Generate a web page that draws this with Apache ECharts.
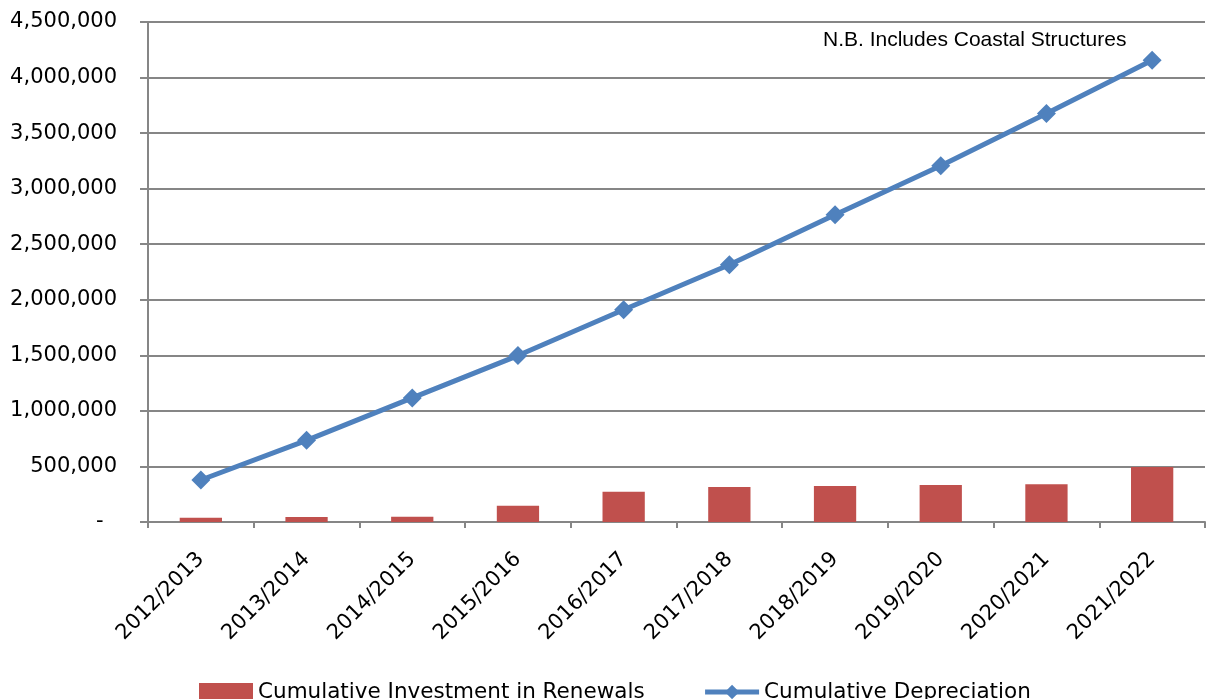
<!DOCTYPE html>
<html>
<head>
<meta charset="utf-8">
<script src="https://cdn.jsdelivr.net/npm/echarts@6/dist/echarts.min.js"></script>
<style>
  html, body { margin: 0; padding: 0; background: #fff; }
  #chart { width: 1208px; height: 699px; }
</style>
</head>
<body>
<div id="chart"></div>
<script>
// years along the category axis
const years = ['2012/2013', '2013/2014', '2014/2015', '2015/2016', '2016/2017',
               '2017/2018', '2018/2019', '2019/2020', '2020/2021', '2021/2022'];
// values
const renewals = [39000, 44000, 48000, 147000, 273000, 315000, 324000, 333000, 339000, 495000];
const depreciation = [378000, 735000, 1117000, 1498000, 1910000, 2315000, 2766000, 3207000, 3676000, 4155000];
const yTicks = { min: 0, max: 4500000, step: 500000 };
const note = 'N.B. Includes Coastal Structures';

const font = '"DejaVu Sans", sans-serif';
const noteFont = '"Liberation Sans", Arial, sans-serif';
const gridGrey = '#868686';

const chart = echarts.init(document.getElementById('chart'));
chart.setOption({
    animation: false,
    textStyle: { fontFamily: font, color: '#000' },
    grid: { left: 148, right: 3, top: 22, bottom: 177, containLabel: false },
    legend: {
        left: 199, top: 681, padding: 0,
        itemWidth: 54, itemHeight: 18, itemGap: 58,
        lineStyle: { width: 5 },
        textStyle: { fontSize: 21.5, color: '#000', fontFamily: font },
        data: [
            { name: 'Cumulative Investment in Renewals', icon: 'rect' },
            { name: 'Cumulative Depreciation' }
        ]
    },
    xAxis: {
        type: 'category',
        data: years,
        boundaryGap: true,
        axisLine: { lineStyle: { color: gridGrey, width: 2 } },
        axisTick: { show: true, length: 6, alignWithLabel: false, lineStyle: { color: gridGrey, width: 2 } },
        axisLabel: { rotate: 45, fontSize: 21, color: '#000', margin: 34, interval: 0 }
    },
    yAxis: {
        type: 'value',
        min: yTicks.min, max: yTicks.max, interval: yTicks.step,
        axisLine: { show: true, lineStyle: { color: gridGrey, width: 2 } },
        axisTick: { show: true, length: 8, lineStyle: { color: gridGrey, width: 2 } },
        splitLine: { lineStyle: { color: gridGrey, width: 2 } },
        axisLabel: {
            fontSize: 21, color: '#000', margin: 31,
            formatter: v => v === 0 ? '-  ' : v.toLocaleString('en-US')
        }
    },
    graphic: [{
        type: 'text', left: 823, top: 30,
        style: { text: note, fontSize: 21, fill: '#000', fontFamily: noteFont }
    }],
    series: [{
        name: 'Cumulative Investment in Renewals',
        type: 'bar',
        data: renewals,
        barWidth: '40%',
        itemStyle: { color: '#C0504D' }
    }, {
        name: 'Cumulative Depreciation',
        type: 'line',
        data: depreciation,
        symbol: 'diamond',
        symbolSize: 19,
        lineStyle: { color: '#4F81BD', width: 5 },
        itemStyle: { color: '#4F81BD' }
    }]
});
</script>
</body>
</html>
